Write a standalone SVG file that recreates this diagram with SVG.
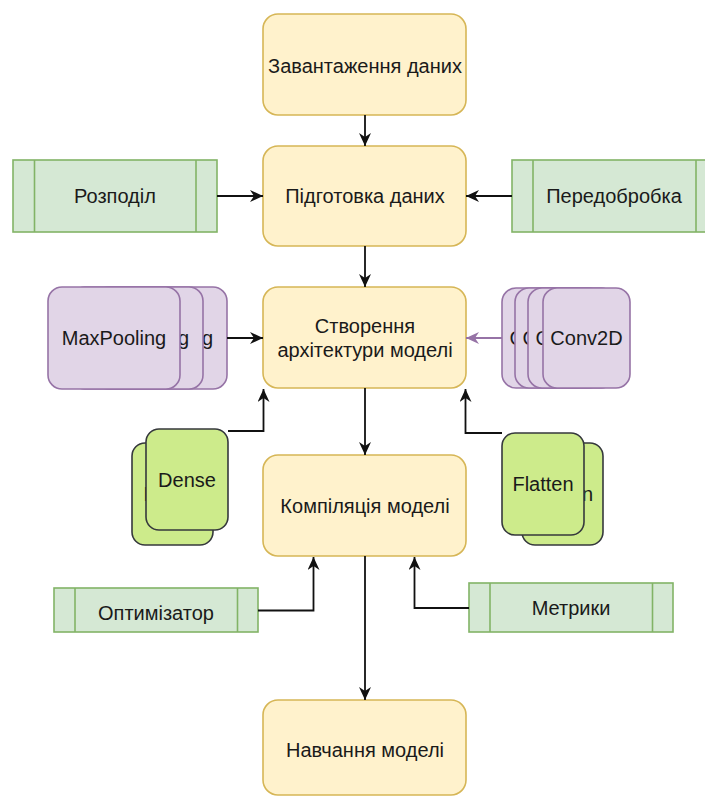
<svg xmlns="http://www.w3.org/2000/svg" width="705" height="796" viewBox="0 0 705 796">
  <defs>
    <style>
      .lbl { font-family: "Liberation Sans", Arial, sans-serif; font-size: 20px; fill: #1a1a1a; text-anchor: middle; }
      .lbl-start { text-anchor: start; }
      .lbl-end { text-anchor: end; }
      .step { fill: #fff2cc; stroke: #d6b656; stroke-width: 1.6; }
      .proc { fill: #d5e8d4; stroke: #82b366; stroke-width: 1.6; }
      .layer { fill: #e1d5e7; stroke: #9673a6; stroke-width: 1.6; }
      .dense { fill: #cdeb8b; stroke: #36393d; stroke-width: 1.6; }
      .edge { fill: none; stroke: #111111; stroke-width: 1.8; }
      .edge-purple { fill: none; stroke: #9673a6; stroke-width: 1.8; }
    </style>
    <marker id="arrow" markerUnits="userSpaceOnUse" markerWidth="13" markerHeight="12" viewBox="0 0 13 12" refX="13" refY="6" orient="auto">
      <path d="M0,0 L13,6 L0,12 L4,6 Z" fill="#111111"/>
    </marker>
    <marker id="arrow-purple" markerUnits="userSpaceOnUse" markerWidth="13" markerHeight="12" viewBox="0 0 13 12" refX="13" refY="6" orient="auto">
      <path d="M0,0 L13,6 L0,12 L4,6 Z" fill="#9673a6"/>
    </marker>
  </defs>

  <rect width="705" height="796" fill="#ffffff"/>

  <!-- main pipeline steps -->
  <g id="load-data">
    <rect class="step" x="263" y="14" width="203" height="101" rx="15"/>
    <text class="lbl" x="365" y="73">Завантаження даних</text>
  </g>
  <g id="prepare-data">
    <rect class="step" x="263" y="146" width="203" height="100" rx="15"/>
    <text class="lbl" x="365" y="203">Підготовка даних</text>
  </g>
  <g id="build-model">
    <rect class="step" x="263" y="287" width="203" height="101" rx="15"/>
    <text class="lbl" x="365" y="333">Створення</text>
    <text class="lbl" x="365" y="357">архітектури моделі</text>
  </g>
  <g id="compile-model">
    <rect class="step" x="263" y="455" width="203" height="101" rx="15"/>
    <text class="lbl" x="365" y="513">Компіляція моделі</text>
  </g>
  <g id="train-model">
    <rect class="step" x="263" y="700" width="203" height="95" rx="15"/>
    <text class="lbl" x="365" y="757">Навчання моделі</text>
  </g>

  <!-- data preparation inputs -->
  <g id="split">
    <rect class="proc" x="13" y="160" width="204" height="72"/>
    <line class="proc" x1="34.5" y1="160" x2="34.5" y2="232"/>
    <line class="proc" x1="196" y1="160" x2="196" y2="232"/>
    <text class="lbl" x="115" y="203">Розподіл</text>
  </g>
  <g id="preprocess">
    <rect class="proc" x="512" y="160" width="204" height="72"/>
    <line class="proc" x1="533" y1="160" x2="533" y2="232"/>
    <line class="proc" x1="696" y1="160" x2="696" y2="232"/>
    <text class="lbl" x="614" y="203">Передобробка</text>
  </g>

  <!-- layer stacks: back cards show only the label tail left uncovered -->
  <g id="maxpooling">
    <rect class="layer" x="95" y="287" width="132" height="102" rx="14"/>
    <text class="lbl lbl-end" x="213.2" y="345">g</text>
    <rect class="layer" x="71" y="287" width="132" height="102" rx="14"/>
    <text class="lbl lbl-end" x="189.2" y="345">g</text>
    <rect class="layer" x="48" y="287" width="132" height="102" rx="14"/>
    <text class="lbl" x="114" y="345">MaxPooling</text>
  </g>
  <g id="conv2d">
    <rect class="layer" x="502" y="288" width="87" height="100" rx="14"/>
    <text class="lbl lbl-start" x="509.4" y="345">C</text>
    <rect class="layer" x="515" y="288" width="87" height="100" rx="14"/>
    <text class="lbl lbl-start" x="522.4" y="345">C</text>
    <rect class="layer" x="528" y="288" width="87" height="100" rx="14"/>
    <text class="lbl lbl-start" x="535.4" y="345">C</text>
    <rect class="layer" x="543" y="288" width="87" height="100" rx="14"/>
    <text class="lbl" x="586.5" y="345">Conv2D</text>
  </g>
  <g id="dense">
    <rect class="dense" x="132" y="443" width="81" height="102" rx="13"/>
    <text class="lbl lbl-start" x="143.6" y="501">D</text>
    <rect class="dense" x="146" y="429" width="82" height="101" rx="13"/>
    <text class="lbl" x="187" y="487">Dense</text>
  </g>
  <g id="flatten">
    <rect class="dense" x="522" y="443" width="81" height="102" rx="13"/>
    <text class="lbl lbl-end" x="593.1" y="501">n</text>
    <rect class="dense" x="502" y="433" width="82" height="102" rx="13"/>
    <text class="lbl" x="543" y="491">Flatten</text>
  </g>

  <!-- compile inputs -->
  <g id="optimizer">
    <rect class="proc" x="54" y="588" width="204" height="44"/>
    <line class="proc" x1="75" y1="588" x2="75" y2="632"/>
    <line class="proc" x1="237.5" y1="588" x2="237.5" y2="632"/>
    <text class="lbl" x="156" y="620">Оптимізатор</text>
  </g>
  <g id="metrics">
    <rect class="proc" x="469" y="583" width="204" height="49"/>
    <line class="proc" x1="490" y1="583" x2="490" y2="632"/>
    <line class="proc" x1="652.5" y1="583" x2="652.5" y2="632"/>
    <text class="lbl" x="571" y="615">Метрики</text>
  </g>

  <!-- connectors -->
  <g id="connectors">
    <path class="edge" d="M365,115 V146" marker-end="url(#arrow)"/>
    <path class="edge" d="M365,246 V287" marker-end="url(#arrow)"/>
    <path class="edge" d="M365,388 V455" marker-end="url(#arrow)"/>
    <path class="edge" d="M365,556 V700" marker-end="url(#arrow)"/>
    <path class="edge" d="M217,196 H263" marker-end="url(#arrow)"/>
    <path class="edge" d="M512,196 H466" marker-end="url(#arrow)"/>
    <path class="edge" d="M227,338 H263" marker-end="url(#arrow)"/>
    <path class="edge-purple" d="M502,338 H466" marker-end="url(#arrow-purple)"/>
    <path class="edge" d="M228,431 H263.5 V389" marker-end="url(#arrow)"/>
    <path class="edge" d="M502,433 H465.5 V389" marker-end="url(#arrow)"/>
    <path class="edge" d="M258,610.5 H313.5 V557" marker-end="url(#arrow)"/>
    <path class="edge" d="M469,608 H414.5 V557" marker-end="url(#arrow)"/>
  </g>
</svg>
